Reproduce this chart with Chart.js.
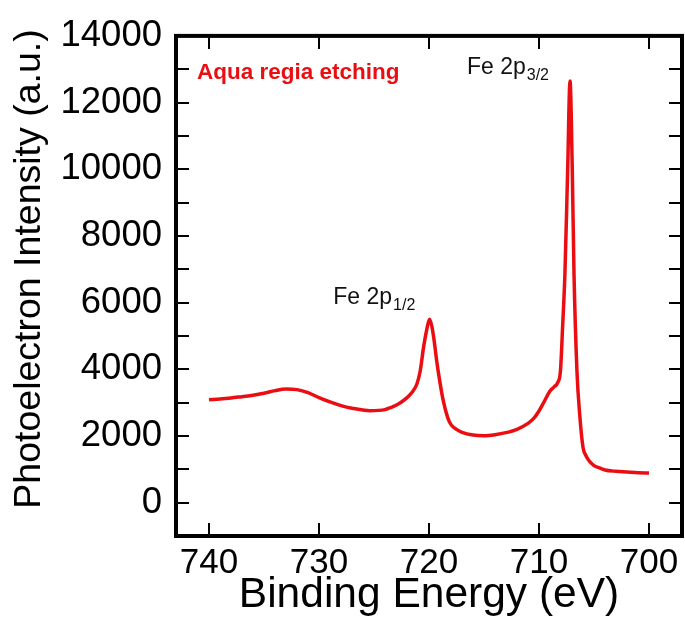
<!DOCTYPE html>
<html>
<head>
<meta charset="utf-8">
<script src="https://cdn.jsdelivr.net/npm/chart.js@4"></script>
<style>
  html, body { margin: 0; padding: 0; background: #fff; }
  #wrap { width: 685px; height: 623px; }
</style>
</head>
<body>
<div id="wrap"><canvas id="c" width="685" height="623"></canvas></div>
<script>
// Fe 2p core-level spectrum after aqua regia etching
const bindingEnergy = [
  740.0, 739.0, 738.0, 737.0, 736.0, 735.0, 734.0, 733.0, 732.0, 731.0,
  730.0, 729.0, 728.0, 727.0, 726.0, 725.4, 724.0, 723.5, 723.0, 722.5,
  722.0, 721.5, 721.1, 720.8, 720.5, 720.2, 719.95, 719.75, 719.55, 719.3,
  719.0, 718.7, 718.3, 718.0, 717.5, 717.0, 716.0, 715.0, 714.0, 713.0,
  712.0, 711.0, 710.5, 710.0, 709.5, 709.0, 708.6, 708.3, 708.05, 707.85,
  707.64, 707.4, 707.18, 706.97, 706.82, 706.55, 706.3, 706.0, 705.75, 705.5,
  705.0, 704.5, 704.0, 703.0, 702.0, 701.0, 700.0
];
const intensity = [
  3090, 3110, 3140, 3180, 3220, 3280, 3360, 3410, 3390, 3300,
  3150, 3020, 2910, 2830, 2780, 2760, 2790, 2850, 2920, 3020,
  3150, 3330, 3560, 3950, 4650, 5200, 5500, 5300, 4900, 4250,
  3600, 3050, 2550, 2340, 2200, 2110, 2030, 2010, 2040, 2100,
  2200, 2380, 2520, 2750, 3050, 3350, 3480, 3600, 3950, 5300,
  6900, 9900, 12650, 9900, 6900, 3950, 2650, 1660, 1420, 1280,
  1110, 1040, 980, 940, 920, 900, 890
];
const energyTicks = [740, 730, 720, 710, 700];
const intensityTicks = [0, 2000, 4000, 6000, 8000, 10000, 12000, 14000];

const RED = 'rgb(234, 14, 18)';
const FONT = '"Liberation Sans", Arial, sans-serif';
const Y_TITLE = 'Photoelectron Intensity (a.u.)';

// Text labels placed in data coordinates
const notes = [
  { x: 741.1, y: 12710, main: 'Aqua regia etching', sub: '', color: RED, bold: true, size: 22.5 },
  { x: 716.55, y: 12860, main: 'Fe 2p', sub: '3/2', color: '#111', bold: false, size: 23 },
  { x: 728.7, y: 5970, main: 'Fe 2p', sub: '1/2', color: '#111', bold: false, size: 23 }
];

// Frame, inward ticks on all four sides, vertical axis title and peak labels
const framePlugin = {
  id: 'frame',
  afterDatasetsDraw(chart) {
    const { ctx, chartArea: a, scales: { x, y } } = chart;
    ctx.save();
    ctx.strokeStyle = '#000';
    ctx.lineWidth = 2;
    const len = 13;
    energyTicks.forEach(v => {
      const px = Math.round(x.getPixelForValue(v));
      ctx.beginPath();
      ctx.moveTo(px, a.bottom); ctx.lineTo(px, a.bottom - len);
      ctx.moveTo(px, a.top); ctx.lineTo(px, a.top + len);
      ctx.stroke();
    });
    for (let v = 0; v <= 13000; v += 1000) {
      const py = Math.round(y.getPixelForValue(v));
      ctx.beginPath();
      ctx.moveTo(a.left, py); ctx.lineTo(a.left + len, py);
      ctx.moveTo(a.right, py); ctx.lineTo(a.right - len, py);
      ctx.stroke();
    }
    ctx.lineWidth = 4;
    ctx.strokeRect(a.left, a.top, a.right - a.left, a.bottom - a.top);

    // vertical axis title
    ctx.save();
    ctx.translate(30, 269);
    ctx.rotate(-Math.PI / 2);
    ctx.fillStyle = '#000';
    ctx.font = '37.5px ' + FONT;
    ctx.textAlign = 'center';
    ctx.textBaseline = 'middle';
    ctx.fillText(Y_TITLE, 0, 0);
    ctx.restore();

    notes.forEach(n => {
      const px = x.getPixelForValue(n.x);
      const py = y.getPixelForValue(n.y);
      ctx.fillStyle = n.color;
      ctx.textBaseline = 'alphabetic';
      ctx.textAlign = 'left';
      ctx.font = (n.bold ? 'bold ' : '') + n.size + 'px ' + FONT;
      ctx.fillText(n.main, px, py);
      if (n.sub) {
        const w = ctx.measureText(n.main).width;
        ctx.font = Math.round(n.size * 0.68) + 'px ' + FONT;
        ctx.fillText(n.sub, px + w + 1, py + 6);
      }
    });
    ctx.restore();
  }
};

new Chart(document.getElementById('c'), {
  type: 'line',
  data: {
    datasets: [{
      data: bindingEnergy.map((e, i) => ({ x: e, y: intensity[i] })),
      borderColor: RED,
      borderWidth: 3.5,
      pointRadius: 0,
      fill: false,
      cubicInterpolationMode: 'monotone'
    }]
  },
  options: {
    responsive: false,
    animation: false,
    events: [],
    layout: { padding: { left: 0, right: 3, top: 31, bottom: 0 } },
    plugins: { legend: { display: false }, tooltip: { enabled: false } },
    scales: {
      x: {
        type: 'linear',
        reverse: true,
        min: 697,
        max: 743,
        afterBuildTicks: s => { s.ticks = energyTicks.map(v => ({ value: v })); },
        afterFit: s => { s.height = 87; },
        grid: { display: false, drawTicks: false },
        border: { display: false },
        ticks: {
          color: '#000', padding: 6, maxRotation: 0,
          font: { family: FONT, size: 35 },
          callback: v => String(v)
        },
        title: {
          display: true, text: 'Binding Energy (eV)', color: '#000',
          font: { family: FONT, size: 42.5 }, padding: { top: 0, bottom: 2 }
        }
      },
      y: {
        min: -1000,
        max: 14000,
        afterBuildTicks: s => { s.ticks = intensityTicks.map(v => ({ value: v })); },
        afterFit: s => { s.width = 176; },
        grid: { display: false, drawTicks: false },
        border: { display: false },
        ticks: {
          color: '#000', padding: 14,
          font: { family: FONT, size: 36.5 },
          callback: v => String(v)
        },
        title: { display: false }
      }
    }
  },
  plugins: [framePlugin]
});
</script>
</body>
</html>
